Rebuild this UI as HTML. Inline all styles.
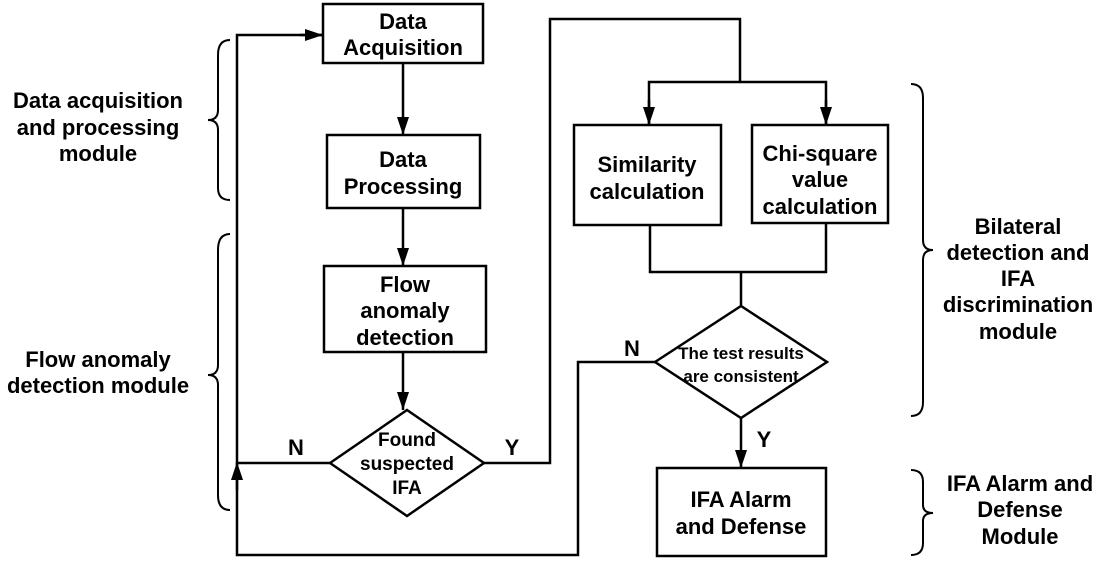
<!DOCTYPE html>
<html><head><style>html,body{margin:0;padding:0;background:#fff}svg{display:block}</style></head><body>
<svg width="1104" height="562" viewBox="0 0 1104 562" xmlns="http://www.w3.org/2000/svg" font-family="'Liberation Sans', 'DejaVu Sans', sans-serif" font-weight="bold">
<defs><marker id="a" markerWidth="18" markerHeight="12" refX="18" refY="6" orient="auto" markerUnits="userSpaceOnUse"><path d="M0,0 L18,6 L0,12 z" fill="#000"/></marker></defs>
<g fill="none" stroke="#000" stroke-width="2.5">
<rect x="323" y="4" width="160" height="59"/>
<rect x="327" y="135" width="153" height="73"/>
<rect x="324" y="266" width="162" height="86"/>
<polygon points="330,463 407,410 484,463 407,516"/>
<rect x="574" y="125" width="147" height="100"/>
<rect x="752" y="125" width="136" height="98"/>
<polygon points="655,362 741,306 827,362 741,418"/>
<rect x="657" y="468" width="169" height="88"/>
<line x1="403" y1="63" x2="403" y2="135" marker-end="url(#a)"/>
<line x1="403" y1="208" x2="403" y2="266" marker-end="url(#a)"/>
<line x1="403" y1="352" x2="403" y2="410" marker-end="url(#a)"/>
<polyline points="484,463 550,463 550,19 740,19 740,82"/>
<polyline points="649,125 649,82 826,82 826,125"/>
<line x1="649" y1="100" x2="649" y2="125" marker-end="url(#a)"/>
<line x1="826" y1="100" x2="826" y2="125" marker-end="url(#a)"/>
<polyline points="650,225 650,272 826,272 826,223"/>
<line x1="741" y1="272" x2="741" y2="306"/>
<line x1="741" y1="418" x2="741" y2="468" marker-end="url(#a)"/>
<polyline points="655,362 578,362 578,555 237,555 237,35 323,35" />
<line x1="300" y1="35" x2="323" y2="35" marker-end="url(#a)"/>
<line x1="330" y1="463" x2="237" y2="463"/>
<line x1="237" y1="490" x2="237" y2="462" marker-end="url(#a)"/>
</g>
<g fill="none" stroke="#000" stroke-width="2">
<path d="M230,40 Q218,40 218,55 L218,110 Q218,120 208,120 Q218,120 218,130 L218,188 Q218,200 230,200"/>
<path d="M230,234 Q218,234 218,250 L218,365 Q218,375 208,375 Q218,375 218,385 L218,495 Q218,510 230,510"/>
<path d="M911,84 Q923,84 923,98 L923,240 Q923,250 933,250 Q923,250 923,260 L923,402 Q923,416 911,416"/>
<path d="M911,470 Q923,470 923,482 L923,505 Q923,513 933,513 Q923,513 923,521 L923,543 Q923,555 911,555"/>
</g>
<g font-size="22" text-anchor="middle" fill="#000">
<text x="403" y="29">Data</text><text x="403" y="55">Acquisition</text>
<text x="403" y="167">Data</text><text x="403" y="194">Processing</text>
<text x="405" y="292">Flow</text><text x="405" y="318">anomaly</text><text x="405" y="345">detection</text>
<text x="647" y="172">Similarity</text><text x="647" y="199">calculation</text>
<text x="820" y="161">Chi-square</text><text x="820" y="187">value</text><text x="820" y="214">calculation</text>
<text x="741" y="507">IFA Alarm</text><text x="741" y="534">and Defense</text>
<text x="98" y="108">Data acquisition</text><text x="98" y="135">and processing</text><text x="98" y="161">module</text>
<text x="98" y="367">Flow anomaly</text><text x="98" y="393">detection module</text>
<text x="1018" y="234">Bilateral</text><text x="1018" y="260">detection and</text><text x="1018" y="286">IFA</text><text x="1018" y="312">discrimination</text><text x="1018" y="339">module</text>
<text x="1020" y="491">IFA Alarm and</text><text x="1020" y="517">Defense</text><text x="1020" y="544">Module</text>
<text x="296" y="455">N</text><text x="512" y="455">Y</text>
<text x="632" y="356">N</text><text x="764" y="447">Y</text>
</g>
<g font-size="19" text-anchor="middle" fill="#000">
<text x="407" y="446">Found</text><text x="407" y="470">suspected</text><text x="407" y="494">IFA</text>
</g>
<g font-size="17" text-anchor="middle" fill="#000">
<text x="741" y="359">The test results</text><text x="741" y="382">are consistent</text>
</g>
</svg>
</body></html>
